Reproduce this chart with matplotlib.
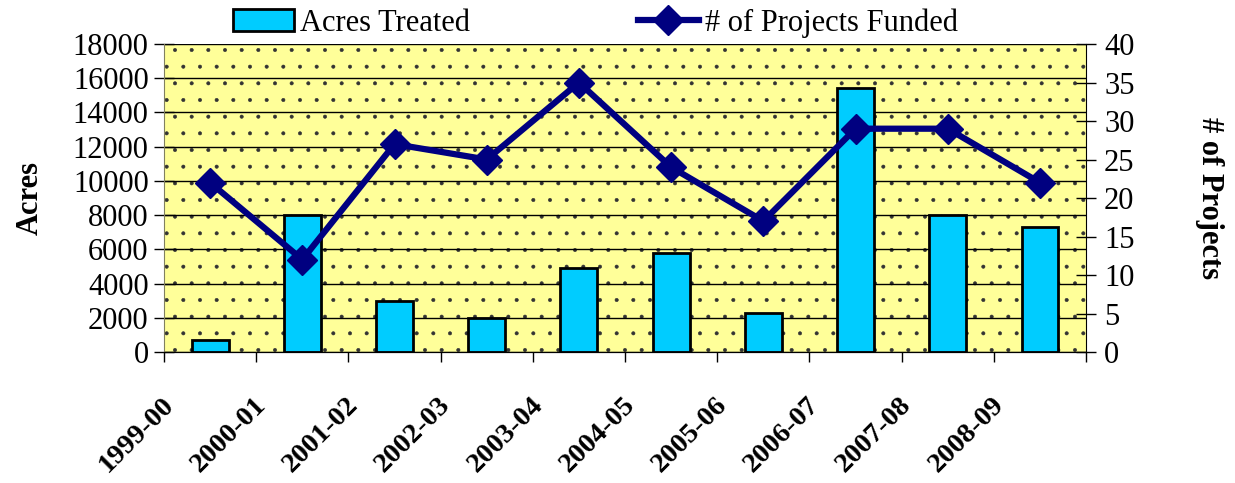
import numpy as np
import matplotlib.pyplot as plt
import matplotlib.transforms as mtransforms
from matplotlib.lines import Line2D
from matplotlib.patches import Patch

plt.rcParams['font.family'] = ['Liberation Serif', 'DejaVu Serif']
plt.rcParams['hatch.linewidth'] = 0.4

years = ['1999-00', '2000-01', '2001-02', '2002-03', '2003-04',
         '2004-05', '2005-06', '2006-07', '2007-08', '2008-09']
acres = [700, 8000, 3000, 2000, 4900, 5800, 2300, 15400, 8000, 7300]
projects = [22, 12, 27, 25, 35, 24, 17, 29, 29, 22]

bar_color = '#00CCFF'
line_color = '#000080'

fig = plt.figure(figsize=(12.35, 4.83), dpi=100)
ax = fig.add_axes([0.1328, 0.2712, 0.8794 - 0.1328, 0.9089 - 0.2712])
ax2 = ax.twinx()

# dotted yellow plot area
ax.patch.set_facecolor('#FFFF99')
ax.patch.set_edgecolor('#333333')
ax.patch.set_linewidth(0)
ax.patch.set_hatch('.')

x = np.arange(len(years))
ax.bar(x, acres, width=0.4, color=bar_color, edgecolor='black', linewidth=2, zorder=2)
ax.set_axisbelow(True)
ax.yaxis.grid(True, color='black', linewidth=1)

ax2.plot(x, projects, color=line_color, linewidth=4.5, marker='D',
         markersize=15, markerfacecolor=line_color, markeredgecolor=line_color)

ax.set_xlim(-0.5, len(years) - 0.5)
ax.set_ylim(0, 18000)
ax.set_yticks(np.arange(0, 18001, 2000))
ax2.set_ylim(0, 40)
ax2.set_yticks(np.arange(0, 41, 5))

# category ticks at boundaries, labels shifted left
ax.set_xticks(x)
ax.set_xticks(np.arange(len(years) + 1) - 0.5, minor=True)
ax.set_xticklabels(years, rotation=45, ha='right', va='top',
                   fontsize=20.5, fontweight='bold')
ax.tick_params(axis='x', which='major', length=0, pad=29)
ax.tick_params(axis='x', which='minor', length=7, width=1, direction='out')
offset = mtransforms.ScaledTranslation(-0.31, 0, fig.dpi_scale_trans)
for lbl in ax.get_xticklabels():
    lbl.set_transform(lbl.get_transform() + offset)

ax.tick_params(axis='y', labelsize=22, direction='inout', length=14, width=1, pad=4)
ax2.tick_params(axis='y', labelsize=22, direction='inout', length=14, width=1, pad=6)

for a in (ax, ax2):
    a.spines['top'].set_visible(False)
ax.spines['left'].set_color('#808060')
ax2.spines['left'].set_visible(False)
ax.spines['right'].set_visible(False)
ax2.spines['right'].set_color('black')

ax.set_ylabel('Acres', fontsize=22, fontweight='bold', labelpad=20)
ax2.set_ylabel('# of Projects', fontsize=22, fontweight='bold',
               rotation=-90, labelpad=64)

handles = [Patch(facecolor=bar_color, edgecolor='black', linewidth=2),
           Line2D([0], [0], color=line_color, linewidth=4.5, marker='D',
                  markersize=15)]
fig.legend(handles, ['Acres Treated', '# of Projects Funded'], loc='upper center',
           bbox_to_anchor=(0.482, 1.04), ncol=2, frameon=False, fontsize=22,
           handlelength=2.0, handletextpad=0.2, columnspacing=5.5)

fig.savefig('out.png', dpi=100)
